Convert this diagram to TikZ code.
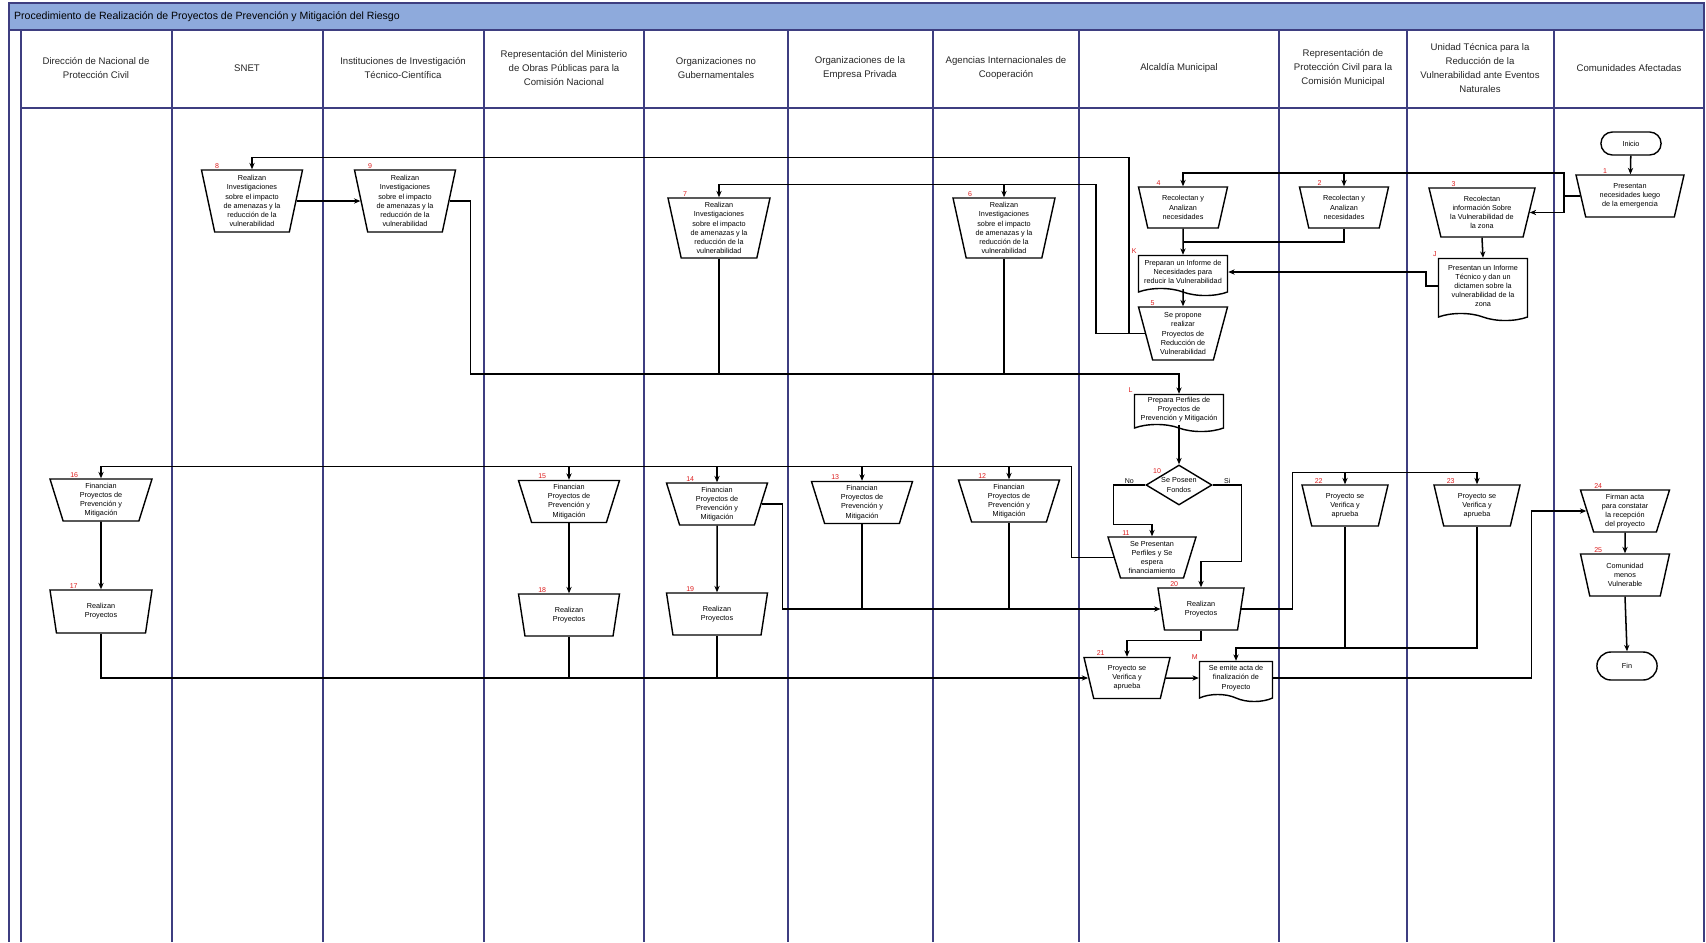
\documentclass[tikz,border=0pt]{standalone}
\usepackage{fontspec}
\setmainfont{Liberation Sans}
\usetikzlibrary{shapes.geometric,shapes.misc,shapes.symbols,arrows.meta,calc}

\definecolor{lanec}{RGB}{62,62,128}
\definecolor{titlebg}{RGB}{142,170,220}
\definecolor{numred}{RGB}{220,30,30}

\tikzset{
    lane/.style={draw=lanec, line width=1.1pt},
    lanehead/.style={align=center, font=\fontsize{8.2}{12}\selectfont, text=black!85},
    task/.style={
        trapezium, shape border rotate=180, trapezium angle=70,
        trapezium stretches body, draw, line width=1.2pt, fill=white,
        minimum width=2.64cm, minimum height=1.26cm, inner sep=0.8pt,
        align=center, font=\fontsize{6.2}{7.8}\selectfont
    },
    tall/.style={trapezium angle=76},
    docbox/.style={
        tape, tape bend top=none, tape bend bottom=out and in, tape bend height=6pt,
        draw, line width=1.2pt, fill=white,
        minimum width=2.67cm, minimum height=1.2cm, inner sep=0.8pt,
        align=center, font=\fontsize{6.2}{7.8}\selectfont
    },
    decision/.style={
        diamond, draw, line width=1.2pt, fill=white, aspect=1.65,
        minimum width=1.98cm, minimum height=1.2cm, inner sep=0.5pt,
        align=center, font=\fontsize{6.2}{7.8}\selectfont
    },
    terminal/.style={
        rounded rectangle, draw, line width=1.2pt, fill=white,
        minimum width=2.04cm, minimum height=0.69cm,
        font=\fontsize{6.2}{7.8}\selectfont
    },
    num/.style={text=numred, font=\fontsize{6}{6}\selectfont, inner sep=0.8pt},
    arrow/.style={-{Stealth[length=5.5pt,width=4.5pt]}, line width=1.3pt},
    link/.style={line width=1.3pt},
    answer/.style={font=\fontsize{6}{6}\selectfont, inner sep=1pt}
}

\begin{document}
\begin{tikzpicture}[x=0.03cm,y=-0.03cm]
\useasboundingbox (0,0) rectangle (1706,942);

% ---- Pool frame and lanes ----
\fill[titlebg] (9,3) rectangle (1704,30);
\draw[lane] (9,3) rectangle (1704,30);
\draw[lane] (9,3) -- (9,942);
\draw[lane] (1704,3) -- (1704,942);
\draw[lane] (21,30) -- (21,942);
\draw[lane] (21,108) -- (1704,108);
\foreach \x in {172,323,484,644,788,933,1079,1279,1407,1554}
    \draw[lane] (\x,30) -- (\x,942);

\node[anchor=west, font=\fontsize{9}{11}\selectfont] (title) at (10,16.5)
    {Procedimiento de Realización de Proyectos de Prevención y Mitigación del Riesgo};

% ---- Lane headers ----
\node[lanehead] (h1)  at (96,  68) {Dirección de Nacional de\\Protección Civil};
\node[lanehead] (h2)  at (247, 68) {SNET};
\node[lanehead] (h3)  at (403, 68) {Instituciones de Investigación\\Técnico-Científica};
\node[lanehead] (h4)  at (564, 68) {Representación del Ministerio\\de Obras Públicas para la\\Comisión Nacional};
\node[lanehead] (h5)  at (716, 68) {Organizaciones no\\Gubernamentales};
\node[lanehead] (h6)  at (860, 68) {Organizaciones de la\\Empresa Privada};
\node[lanehead] (h7)  at (1006,68) {Agencias Internacionales de\\Cooperación};
\node[lanehead] (h8)  at (1179,68) {Alcaldía Municipal};
\node[lanehead] (h9)  at (1343,68) {Representación de\\Protección Civil para la\\Comisión Municipal};
\node[lanehead] (h10) at (1480,68) {Unidad Técnica para la\\Reducción de la\\Vulnerabilidad ante Eventos\\Naturales};
\node[lanehead] (h11) at (1629,68) {Comunidades Afectadas};

% ---- Top part (needs and studies) ----
\node[terminal] (ini) at (1631,143.5) {Inicio};
\node[task, minimum width=3.24cm, label={[num]north west:1}] (n1) at (1630,196) {Presentan\\necesidades luego\\de la emergencia};
\node[task, minimum width=2.67cm, minimum height=1.23cm, label={[num]north west:2}] (n2) at (1344,207.5) {Recolectan y\\Analizan\\necesidades};
\node[task, minimum width=3.18cm, minimum height=1.47cm, trapezium angle=71, label={[num]north west:3}] (n3) at (1482,212.5) {Recolectan\\información Sobre\\la Vulnerabilidad de\\la zona};
\node[task, minimum width=2.67cm, minimum height=1.23cm, label={[num]north west:4}] (n4) at (1183,207.5) {Recolectan y\\Analizan\\necesidades};
\node[docbox, minimum height=1.86cm, label={[num]north west:J}] (nJ) at (1483,286) {Presentan un Informe\\Técnico y dan un\\dictamen sobre la\\vulnerabilidad de la\\zona};
\node[docbox, label={[num]north west:K}] (nK) at (1183,272) {Preparan un Informe de\\Necesidades para\\reducir la Vulnerabilidad};
\node[task, minimum width=2.67cm, minimum height=1.59cm, trapezium angle=72, label={[num]north west:5}] (n5) at (1183,333.5) {Se propone\\realizar\\Proyectos de\\Reducción de\\Vulnerabilidad};

\node[task, tall, minimum width=3.03cm, minimum height=1.86cm, label={[num]north west:8}] (n8) at (252,201) {Realizan\\Investigaciones\\sobre el impacto\\de amenazas y la\\reducción de la\\vulnerabilidad};
\node[task, tall, minimum width=3.03cm, minimum height=1.86cm, label={[num]north west:9}] (n9) at (405,201) {Realizan\\Investigaciones\\sobre el impacto\\de amenazas y la\\reducción de la\\vulnerabilidad};
\node[task, tall, minimum width=3.06cm, minimum height=1.8cm, label={[num]north west:7}] (n7) at (719,228) {Realizan\\Investigaciones\\sobre el impacto\\de amenazas y la\\reducción de la\\vulnerabilidad};
\node[task, tall, minimum width=3.06cm, minimum height=1.8cm, label={[num]north west:6}] (n6) at (1004,228) {Realizan\\Investigaciones\\sobre el impacto\\de amenazas y la\\reducción de la\\vulnerabilidad};

\node[docbox, minimum height=1.11cm, label={[num]north west:L}] (nL) at (1179,409.5) {Prepara Perfiles de\\Proyectos de\\Prevención y Mitigación};
\node[decision, label={[num]north west:10}] (n10) at (1179,485) {Se Poseen\\Fondos};
\node[task, minimum height=1.23cm, label={[num]north west:11}] (n11) at (1152,557.5) {Se Presentan\\Perfiles y Se\\espera\\financiamiento};

% ---- Financing row ----
\node[task, minimum width=3.06cm, label={[num]north west:16}] (n16) at (101,500) {Financian\\Proyectos de\\Prevención y\\Mitigación};
\node[task, minimum width=3.03cm, label={[num]north west:15}] (n15) at (569,501.5) {Financian\\Proyectos de\\Prevención y\\Mitigación};
\node[task, minimum width=3.03cm, label={[num]north west:14}] (n14) at (717,504) {Financian\\Proyectos de\\Prevención y\\Mitigación};
\node[task, minimum width=3.03cm, label={[num]north west:13}] (n13) at (862,502.5) {Financian\\Proyectos de\\Prevención y\\Mitigación};
\node[task, minimum width=3.03cm, label={[num]north west:12}] (n12) at (1009,501) {Financian\\Proyectos de\\Prevención y\\Mitigación};

% ---- Execution row ----
\node[task, minimum width=3.06cm, minimum height=1.29cm, label={[num]north west:17}] (n17) at (101,611.5) {Realizan\\Proyectos};
\node[task, minimum width=3.03cm, label={[num]north west:18}] (n18) at (569,615) {Realizan\\Proyectos};
\node[task, minimum width=3.03cm, label={[num]north west:19}] (n19) at (717,614) {Realizan\\Proyectos};
\node[task, minimum width=2.58cm, label={[num]north west:20}] (n20) at (1201,609) {Realizan\\Proyectos};
\node[task, minimum width=2.58cm, minimum height=1.23cm, label={[num]north west:22}] (n22) at (1345,505.5) {Proyecto se\\Verifica y\\aprueba};
\node[task, minimum width=2.58cm, minimum height=1.23cm, label={[num]north west:23}] (n23) at (1477,505.5) {Proyecto se\\Verifica y\\aprueba};
\node[task, minimum width=2.58cm, minimum height=1.23cm, label={[num]north west:21}] (n21) at (1127,678) {Proyecto se\\Verifica y\\aprueba};
\node[docbox, minimum width=2.19cm, label={[num]north west:M}] (nM) at (1236,678) {Se emite acta de\\finalización de\\Proyecto};
\node[task, minimum width=2.67cm, label={[num]north west:24}] (n24) at (1625,511) {Firman acta\\para constatar\\la recepción\\del proyecto};
\node[task, minimum width=2.67cm, label={[num]north west:25}] (n25) at (1625,575) {Comunidad\\menos\\Vulnerable};
\node[terminal, minimum height=0.84cm] (fin) at (1627,666) {Fin};

% junction points
\coordinate (c1) at (1564,173);
\coordinate (jL) at ($(nL.north)+(0,-20)$);
\coordinate (jF) at ($(n16.north)+(0,-12)$);
\coordinate (jV) at ($(n23.north)+(0,-12)$);
\coordinate (jM) at ($(nM.north)+(0,-13)$);

% Start -> needs
\draw[arrow] (ini) -- (n1);
\draw[arrow] (n1.west) -| (c1) -| (n2.north);
\draw[arrow] (c1) -| (n4.north);
\draw[arrow] (n1.west) -| (c1 |- n3.east) -- (n3.east);

% Needs -> report -> proposal
\draw[arrow] (n4.south) -- (nK.north);
\draw[link] (n2.south) |- ($(n4.south)!0.5!(nK.north)$);
\draw[arrow] (n3.south) -- (nJ.north);
\draw[arrow] (nJ.west) -- ++(-12,0) |- (nK.east);
\draw[arrow] (nK.south) -- (n5.north);

% Proposal -> research institutions
\draw[arrow] (n5.west) -- ++(-16,0) |- ($(n8.north)+(0,-12)$) -- (n8.north);
\draw[arrow] (n5.west) -- ++(-49,0) |- ($(n7.north)+(0,-13)$) -- (n7.north);
\draw[arrow] ($(n6.north)+(0,-13)$) -- (n6.north);
\draw[arrow] (n8.east) -- (n9.west);

% Research -> profiles
\draw[arrow] (n9.east) -- ++(21,0) |- (jL) -- (nL.north);
\draw[link] (n7.south) -- (n7.south |- jL);
\draw[link] (n6.south) -- (n6.south |- jL);
\draw[arrow] (nL.south) -- (n10.north);

% Decision
\draw[arrow] (n10.west) -- node[answer, above] (no) {No} ++(-32,0) |- ($(n11.north)+(0,-12)$) -- (n11.north);
\draw[arrow] (n10.east) -- node[answer, above] (si) {Si} ++(29,0) |- ($(n20.north)+(0,-26)$) -- (n20.north);

% Profiles -> financing bodies
\draw[arrow] (n11.west) -- ++(-42,0) |- (jF) -- (n16.north);
\foreach \n in {n15,n14,n13,n12}
    \draw[arrow] (\n.north |- jF) -- (\n.north);

% Financing -> execution
\draw[arrow] (n16.south) -- (n17.north);
\draw[arrow] (n15.south) -- (n18.north);
\draw[arrow] (n14.south) -- (n19.north);
\draw[arrow] (n14.east) -- ++(21,0) |- (n20.west);
\foreach \n in {n13,n12}
    \draw[link] (\n.south) -- (\n.south |- n20.west);

% Execution -> verification
\draw[arrow] (n17.south) |- (n21.west);
\foreach \n in {n18,n19}
    \draw[link] (\n.south) -- (\n.south |- n21.west);
\draw[arrow] (n20.south) -- ++(0,10) -| (n21.north);
\draw[arrow] (n20.east) -- ++(51,0) |- (jV) -- (n23.north);
\draw[arrow] (n22.north |- jV) -- (n22.north);

% Verification -> closing act -> community
\draw[arrow] (n23.south) |- (jM) -- (nM.north);
\draw[link] (n22.south) -- (n22.south |- jM);
\draw[arrow] (n21.east) -- (nM.west);
\draw[arrow] (nM.east) -| ($(n24.west)+(-55,0)$) -- (n24.west);
\draw[arrow] (n24.south) -- (n25.north);
\draw[arrow] (n25.south) -- (fin.north);

\end{tikzpicture}
\end{document}
